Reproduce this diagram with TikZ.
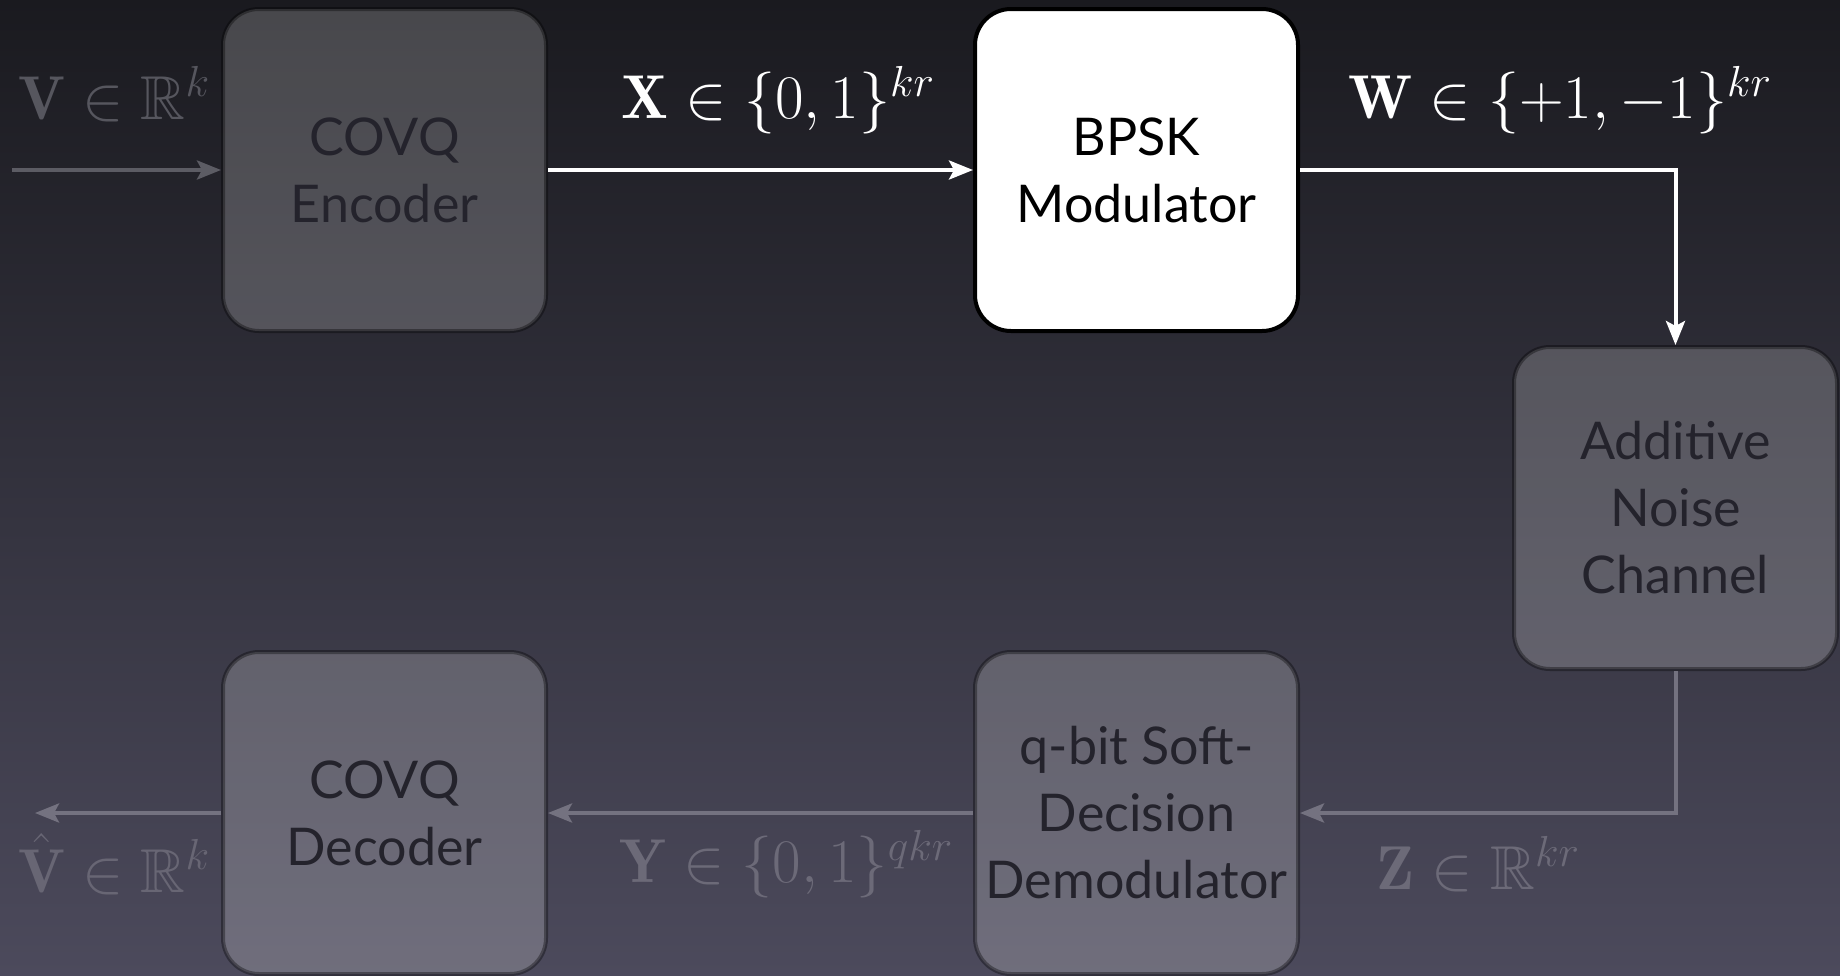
\RequirePackage{fix-cm}
\documentclass[tikz,border=0pt]{standalone}
\usepackage{amsmath,amssymb}
\usepackage{fontspec}
\newfontfamily\boxfont{Lato}
\usetikzlibrary{arrows.meta}
\definecolor{bgtop}{RGB}{26,26,31}
\definecolor{bgbot}{RGB}{76,74,92}
\definecolor{boxtext}{RGB}{36,35,44}
\definecolor{fadetop}{RGB}{92,92,100}
\definecolor{fadebot}{RGB}{116,114,128}
\begin{document}
\begin{tikzpicture}[x=1pt,y=-1pt,
  block/.style={rectangle, rounded corners=36pt, minimum width=323pt, minimum height=322pt,
    line width=4pt, align=center, inner sep=0pt,
    font=\boxfont\fontsize{52}{67}\selectfont},
  fadedblock/.style={block, fill=white, fill opacity=0.2, draw=black, draw opacity=0.35,
    text opacity=1, text=boxtext},
  activeblock/.style={block, fill=white, draw=black, text=black},
  flow/.style={line width=4pt, -{Stealth[length=24pt,width=19pt,inset=5pt]}},
  mathlabel/.style={font=\fontsize{62}{64}\selectfont, inner sep=0pt}
]
\shade[top color=bgtop, bottom color=bgbot] (0,0) rectangle (1840,975);
\useasboundingbox (0,0) rectangle (1840,975);

% blocks
\node[fadedblock] (enc) at (384.5,170) {COVQ\\Encoder};
\node[activeblock] (bpsk) at (1136.5,170) {BPSK\\Modulator};
\node[fadedblock] (noise) at (1675.5,508) {Additive\\Noise\\Channel};
\node[fadedblock] (demod) at (1136.5,813) {q-bit Soft-\\Decision\\Demodulator};
\node[fadedblock] (dec) at (384.5,813) {COVQ\\Decoder};

% free ends
\coordinate (in) at (12,170);
\coordinate (out) at (35,813);

% connectors
\draw[flow, fadetop] (in) -- (enc.west);
\draw[flow, white] (enc.east) -- (bpsk.west);
\draw[flow, white] (bpsk.east) -| (noise.north);
\draw[flow, fadebot] (noise.south) |- (demod.east);
\draw[flow, fadebot] (demod.west) -- (dec.east);
\draw[flow, fadebot] (dec.west) -- (out);

% labels
\node[mathlabel, text={rgb,255:red,86;green,86;blue,94}] (lv) at (114,94) {$\mathbf{V}\in\mathbb{R}^{k}$};
\node[mathlabel, text=white] (lx) at (778,100) {$\mathbf{X}\in\{0,1\}^{kr}$};
\node[mathlabel, text=white] (lw) at (1560,100) {$\mathbf{W}\in\{+1,-1\}^{kr}$};
\node[mathlabel, text={rgb,255:red,108;green,106;blue,120}] (ly) at (786,864) {$\mathbf{Y}\in\{0,1\}^{qkr}$};
\node[mathlabel, text={rgb,255:red,108;green,106;blue,120}] (lz) at (1478,864) {$\mathbf{Z}\in\mathbb{R}^{kr}$};
\node[mathlabel, text={rgb,255:red,104;green,102;blue,116}] (lvh) at (114,864) {$\hat{\mathbf{V}}\in\mathbb{R}^{k}$};
\end{tikzpicture}
\end{document}
